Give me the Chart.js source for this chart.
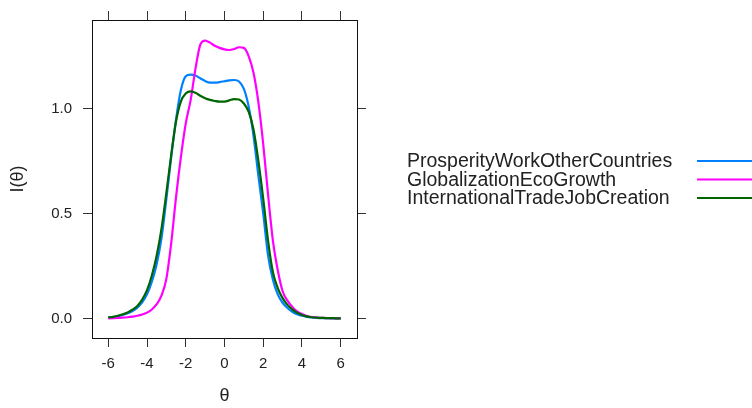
<!DOCTYPE html>
<html>
<head>
<meta charset="utf-8">
<script src="https://cdn.jsdelivr.net/npm/chart.js@4"></script>
<style>
  html, body { margin: 0; padding: 0; background: #fff; }
  #wrap { width: 752px; height: 408px; }
</style>
</head>
<body>
<div id="wrap"><canvas id="infoChart" width="752" height="408"></canvas></div>
<script>
const theta = [
  -6, -5.75, -5.5, -5.25, -5, -4.75, -4.5, -4.25, -4, -3.75, -3.5, -3.25, -3,
  -2.75, -2.5, -2.25, -2, -1.75, -1.5, -1.25, -1, -0.75, -0.5, -0.25, 0,
  0.25, 0.5, 0.75, 1, 1.25, 1.5, 1.75, 2, 2.25, 2.5, 2.75, 3,
  3.25, 3.5, 3.75, 4, 4.25, 4.5, 4.75, 5, 5.25, 5.5, 5.75, 6
];

const prosperityWork = [
  0.004, 0.007, 0.011, 0.017, 0.025, 0.036, 0.052, 0.077, 0.115, 0.175, 0.26, 0.385, 0.57,
  0.77, 0.95, 1.09, 1.155, 1.163, 1.158, 1.145, 1.132, 1.124, 1.124, 1.127, 1.131,
  1.135, 1.137, 1.13, 1.095, 1.01, 0.87, 0.68, 0.50, 0.30, 0.185, 0.115, 0.075,
  0.05, 0.032, 0.02, 0.013, 0.008, 0.005, 0.003, 0.002, 0.002, 0.001, 0.001, 0.001
];

const globalizationGrowth = [
  0.001, 0.002, 0.003, 0.004, 0.006, 0.009, 0.013, 0.019, 0.028, 0.043, 0.068, 0.11, 0.19,
  0.36, 0.58, 0.77, 0.93, 1.04, 1.19, 1.305, 1.325, 1.315, 1.30, 1.29, 1.283,
  1.28, 1.285, 1.293, 1.29, 1.25, 1.17, 1.03, 0.83, 0.59, 0.37, 0.23, 0.13,
  0.085, 0.055, 0.034, 0.021, 0.012, 0.007, 0.004, 0.003, 0.002, 0.002, 0.001, 0.001
];

const tradeJobs = [
  0.005, 0.008, 0.013, 0.02, 0.029, 0.042, 0.06, 0.09, 0.135, 0.205, 0.30, 0.43, 0.60,
  0.78, 0.94, 1.035, 1.073, 1.083, 1.076, 1.062, 1.05, 1.042, 1.037, 1.034, 1.034,
  1.04, 1.046, 1.044, 1.025, 0.985, 0.90, 0.75, 0.57, 0.37, 0.22, 0.145, 0.097,
  0.065, 0.043, 0.027, 0.017, 0.01, 0.006, 0.004, 0.003, 0.002, 0.002, 0.001, 0.001
];

const seriesNames = ['ProsperityWorkOtherCountries', 'GlobalizationEcoGrowth', 'InternationalTradeJobCreation'];
const seriesColors = ['#0080ff', '#ff00ff', '#006400'];
const xTicks = [-6, -4, -2, 0, 2, 4, 6];
const yTicks = [0, 0.5, 1.0];

const xMin = -6.84, xMax = 6.84;
const yMin = -0.093, yMax = 1.423;

const toPoints = vals => theta.map((t, i) => ({ x: t, y: vals[i] }));
const allSeries = [prosperityWork, globalizationGrowth, tradeJobs];

// key drawn on the right like lattice: text first, then a line sample
const legendRight = {
  id: 'legendRight',
  afterDraw(chart) {
    const { ctx, chartArea } = chart;
    const mid = (chartArea.top + chartArea.bottom) / 2 + 0.5;
    ctx.save();
    ctx.font = '19.5px "Liberation Sans", Arial, sans-serif';
    ctx.textBaseline = 'alphabetic';
    ctx.textAlign = 'left';
    seriesNames.forEach((name, i) => {
      const cy = mid + (i - 1) * 18.5;
      ctx.fillStyle = '#222';
      ctx.fillText(name, 407, cy + 6);
      ctx.strokeStyle = seriesColors[i];
      ctx.lineWidth = 2;
      ctx.beginPath();
      ctx.moveTo(697, cy);
      ctx.lineTo(chart.width, cy);
      ctx.stroke();
    });
    ctx.restore();
  }
};

const gridOpts = {
  drawOnChartArea: false,
  drawTicks: true,
  tickLength: 9,
  color: '#333',
  lineWidth: 1
};
const borderOpts = { display: true, color: '#111', width: 1 };
const tickFont = { family: '"Liberation Sans", Arial, sans-serif', size: 15 };

const ctx = document.getElementById('infoChart').getContext('2d');
const infoChart = new Chart(ctx, {
  type: 'line',
  data: {
    datasets: allSeries.map((vals, i) => ({
      label: seriesNames[i],
      data: toPoints(vals),
      borderColor: seriesColors[i],
      borderWidth: 2.2,
      pointRadius: 0,
      fill: false,
      cubicInterpolationMode: 'monotone',
      order: 2 - i,
      xAxisID: 'x',
      yAxisID: 'y'
    }))
  },
  options: {
    responsive: false,
    animation: false,
    layout: { padding: { left: 0, top: 0, bottom: 0, right: 385 } },
    plugins: {
      legend: { display: false },
      tooltip: { enabled: false }
    },
    scales: {
      x: {
        type: 'linear',
        position: 'bottom',
        min: xMin,
        max: xMax,
        afterBuildTicks: s => { s.ticks = xTicks.map(v => ({ value: v })); },
        afterFit: s => { s.height = 70; },
        ticks: { color: '#222', font: tickFont, padding: 8, maxRotation: 0 },
        grid: gridOpts,
        border: borderOpts,
        title: {
          display: true,
          text: 'θ',
          color: '#222',
          font: { family: '"Liberation Sans", Arial, sans-serif', size: 18 },
          padding: { top: 0, bottom: 1 }
        }
      },
      x2: {
        type: 'linear',
        position: 'top',
        min: xMin,
        max: xMax,
        afterBuildTicks: s => { s.ticks = xTicks.map(v => ({ value: v })); },
        afterFit: s => { s.height = 15; },
        ticks: { display: false },
        grid: gridOpts,
        border: borderOpts
      },
      y: {
        type: 'linear',
        position: 'left',
        min: yMin,
        max: yMax,
        afterBuildTicks: s => { s.ticks = yTicks.map(v => ({ value: v })); },
        afterFit: s => { s.width = 92; },
        ticks: {
          color: '#222',
          font: tickFont,
          padding: 11,
          callback: v => Number(v).toFixed(1)
        },
        grid: gridOpts,
        border: borderOpts,
        title: {
          display: true,
          text: 'I(θ)',
          color: '#222',
          font: { family: '"Liberation Sans", Arial, sans-serif', size: 18 },
          padding: { top: 7, bottom: 0 }
        }
      },
      y2: {
        type: 'linear',
        position: 'right',
        min: yMin,
        max: yMax,
        afterBuildTicks: s => { s.ticks = yTicks.map(v => ({ value: v })); },
        afterFit: s => { s.width = 10; },
        ticks: { display: false },
        grid: gridOpts,
        border: borderOpts
      }
    }
  },
  plugins: [legendRight]
});
</script>
</body>
</html>
